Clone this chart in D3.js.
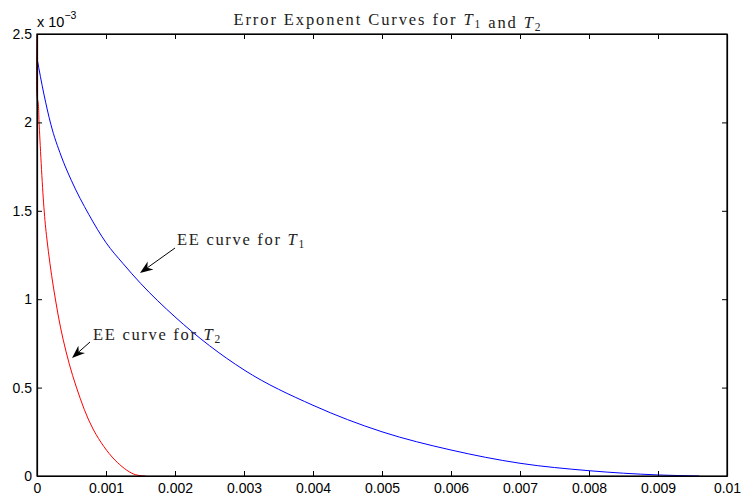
<!DOCTYPE html>
<html>
<head>
<meta charset="utf-8">
<script src="https://cdn.jsdelivr.net/npm/d3@7"></script>
<style>
  body { margin: 0; background: #fff; }
  svg { display: block; }
  .tick text { font-family: "Liberation Sans", Arial, sans-serif; font-size: 14px; fill: #000; }
  .serif { font-family: "Liberation Serif", "DejaVu Serif", serif; fill: #222; letter-spacing: 1.7px; }
</style>
</head>
<body>
<div id="chart"></div>
<script>
// x ticks and y ticks (y in units of 1e-3)
const xTicks = [0, 0.001, 0.002, 0.003, 0.004, 0.005, 0.006, 0.007, 0.008, 0.009, 0.01];
const yTicks = [0, 0.5, 1, 1.5, 2, 2.5];

// EE curve for T1 (blue)
const t1X = [0, 0.0001, 0.0002, 0.00035, 0.0005, 0.00075, 0.001, 0.00125, 0.0015, 0.002, 0.003, 0.004, 0.005, 0.006, 0.007, 0.008, 0.009, 0.0096];
const t1Y = [2.363, 2.16, 1.99, 1.81, 1.67, 1.48, 1.32, 1.2, 1.09, 0.9, 0.6, 0.4, 0.25, 0.147, 0.072, 0.03, 0.006, 0];

// EE curve for T2 (red)
const t2X = [0, 0, 0.00002, 0.00003, 0.0001, 0.000145, 0.00024, 0.00038, 0.00057, 0.00082, 0.00113, 0.0014, 0.00157];
const t2Y = [2.5, 2.155, 2.1, 2.0, 1.52, 1.335, 1.063, 0.77, 0.503, 0.26, 0.09, 0.011, 0];

const width = 743, height = 498;
const margin = { top: 34, right: 16, bottom: 22, left: 37 };

const svg = d3.select("#chart").append("svg").attr("width", width).attr("height", height);

const x = d3.scaleLinear().domain([0, 0.01]).range([margin.left, width - margin.right]);
const y = d3.scaleLinear().domain([0, 2.5]).range([height - margin.bottom, margin.top]);

// Curves
const blueLine = d3.line()
  .x((d) => x(d[0]))
  .y((d) => y(d[1]))
  .curve(d3.curveMonotoneX);

const redLine = d3.line()
  .x((d) => x(d[0]))
  .y((d) => y(d[1]))
  .curve(d3.curveCatmullRom.alpha(0.5));

svg.append("path")
  .datum(t1X.map((v, i) => [v, t1Y[i]]))
  .attr("fill", "none")
  .attr("stroke", "#0000ff")
  .attr("stroke-width", 1)
  .attr("d", blueLine);

svg.append("path")
  .datum(t2X.map((v, i) => [v, t2Y[i]]))
  .attr("fill", "none")
  .attr("stroke", "#ff0000")
  .attr("stroke-width", 1)
  .attr("d", redLine);

// Axes (MATLAB style: ticks pointing inward, box with ticks on all sides)
const tickLen = 5;
svg.append("g")
  .attr("transform", `translate(0,${y(0)})`)
  .call(d3.axisBottom(x).tickValues(xTicks).tickSizeInner(-tickLen).tickSizeOuter(0).tickPadding(7)
    .tickFormat((d) => (d === 0 ? "0" : String(+d.toFixed(3)))));

svg.append("g")
  .attr("transform", `translate(${x(0)},0)`)
  .call(d3.axisLeft(y).tickValues(yTicks).tickSizeInner(-tickLen).tickSizeOuter(0).tickPadding(5)
    .tickFormat((d) => String(d)));

svg.append("g")
  .attr("transform", `translate(0,${y(2.5)})`)
  .call(d3.axisTop(x).tickValues(xTicks).tickSizeInner(-tickLen).tickSizeOuter(0).tickFormat(""));

svg.append("g")
  .attr("transform", `translate(${x(0.01)},0)`)
  .call(d3.axisRight(y).tickValues(yTicks).tickSizeInner(-tickLen).tickSizeOuter(0).tickFormat(""));

svg.selectAll(".domain").attr("stroke", "#000").attr("stroke-width", 1.2);
svg.selectAll(".tick line").attr("stroke", "#000");

// Box
svg.append("rect")
  .attr("x", x(0)).attr("y", y(2.5))
  .attr("width", x(0.01) - x(0)).attr("height", y(0) - y(2.5))
  .attr("fill", "none").attr("stroke", "#000").attr("stroke-width", 1.2);

// Exponent label
const expo = svg.append("text")
  .attr("x", x(0)).attr("y", 27)
  .attr("font-family", "Liberation Sans, Arial, sans-serif")
  .attr("font-size", 14.5);
expo.append("tspan").text("x 10");
expo.append("tspan").attr("font-size", 10.5).attr("dy", -8).text("\u22123");

// Text with italic T and subscripts
function mathText(parent, parts) {
  parts.forEach((p) => {
    if (p.sub) {
      parent.append("tspan").attr("font-size", "0.7em").attr("dy", 3).text(p.sub);
      parent.append("tspan").attr("dy", -3).text("");
    } else if (p.it) {
      parent.append("tspan").attr("font-style", "italic").text(p.it);
    } else {
      parent.append("tspan").text(p.t);
    }
  });
}

const title = svg.append("text")
  .attr("class", "serif")
  .attr("x", 388).attr("y", 25)
  .attr("text-anchor", "middle")
  .attr("font-size", 16.5)
  .style("letter-spacing", "1.9px");
mathText(title, [{ t: "Error Exponent Curves for " }, { it: "T" }, { sub: "1" }, { t: " and " }, { it: "T" }, { sub: "2" }]);

// Annotations
function arrow(x1, y1, x2, y2) {
  const ang = Math.atan2(y2 - y1, x2 - x1);
  const L = 13, W = 5, back = 9;
  const bx = x2 - L * Math.cos(ang), by = y2 - L * Math.sin(ang);
  const px = -Math.sin(ang), py = Math.cos(ang);
  const nx = x2 - back * Math.cos(ang), ny = y2 - back * Math.sin(ang);
  svg.append("line")
    .attr("x1", x1).attr("y1", y1).attr("x2", nx).attr("y2", ny)
    .attr("stroke", "#000").attr("stroke-width", 1);
  svg.append("path")
    .attr("d", `M${x2},${y2} L${bx + W * px},${by + W * py} L${nx},${ny} L${bx - W * px},${by - W * py} Z`)
    .attr("fill", "#000");
}

const ann1 = svg.append("text").attr("class", "serif").attr("x", 177).attr("y", 245).attr("font-size", 16.5);
mathText(ann1, [{ t: "EE curve for " }, { it: "T" }, { sub: "1" }]);
arrow(175, 248, 140, 273);

const ann2 = svg.append("text").attr("class", "serif").attr("x", 93).attr("y", 340).attr("font-size", 16.5);
mathText(ann2, [{ t: "EE curve for " }, { it: "T" }, { sub: "2" }]);
arrow(90, 342, 72, 358);
</script>
</body>
</html>
